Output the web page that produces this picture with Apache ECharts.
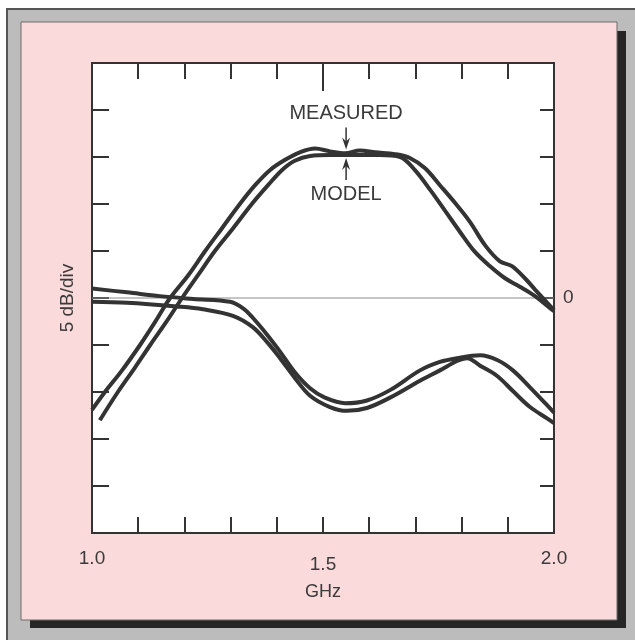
<!DOCTYPE html>
<html>
<head>
<meta charset="utf-8">
<script src="https://cdn.jsdelivr.net/npm/echarts@6/dist/echarts.min.js"></script>
<style>
html,body{margin:0;padding:0;background:#fff;}
#c{width:635px;height:640px;}
</style>
</head>
<body>
<div id="c"></div>
<script>
// ---- data (GHz, dB) ----
const upperMeasF  = [1.000,1.028,1.065,1.104,1.136,1.169,1.208,1.245,1.281,1.320,1.353,1.385,1.418,1.450,1.483,1.515,1.548,1.580,1.613,1.656,1.688,1.721,1.753,1.786,1.818,1.851,1.883,1.909,1.937,1.959,1.985,2.000];
const upperMeasDb = [-11.9,-10.0,-7.7,-5.0,-2.6,0,2.4,5.0,7.4,10.0,12.0,13.6,14.7,15.5,15.9,15.6,15.4,15.7,15.5,15.3,14.9,13.8,12.0,10.1,8.1,5.6,3.9,3.4,2.1,0.9,-0.5,-1.3];
const upperModelF  = [1.017,1.056,1.093,1.126,1.160,1.195,1.229,1.266,1.305,1.346,1.381,1.411,1.439,1.472,1.515,1.558,1.623,1.667,1.699,1.732,1.764,1.797,1.829,1.861,1.894,1.926,1.959,1.987,2.000];
const upperModelDb = [-13.0,-10.0,-7.4,-5.0,-2.6,0,2.4,5.0,7.4,10.0,12.0,13.6,14.6,15.1,15.2,15.2,15.2,15.0,13.6,11.5,9.3,7.0,4.9,3.4,2.1,1.2,0.2,-0.9,-1.4];
const lowerMeasF  = [1.000,1.076,1.147,1.219,1.299,1.327,1.348,1.379,1.407,1.439,1.472,1.504,1.548,1.595,1.645,1.710,1.753,1.790,1.840,1.877,1.911,1.948,1.985,2.000];
const lowerMeasDb = [1.0,0.6,0.2,-0.1,-0.4,-1.1,-2.1,-3.9,-5.7,-7.9,-9.6,-10.6,-11.2,-10.9,-9.8,-7.7,-6.8,-6.4,-6.1,-6.6,-7.7,-9.5,-11.4,-12.2];
const lowerModelF  = [1.000,1.076,1.184,1.240,1.305,1.348,1.379,1.407,1.439,1.472,1.515,1.552,1.595,1.645,1.710,1.753,1.790,1.812,1.840,1.877,1.911,1.948,1.985,2.000];
const lowerModelDb = [-0.4,-0.5,-0.9,-1.2,-1.9,-3.1,-4.7,-6.4,-8.5,-10.4,-11.6,-12.0,-11.7,-10.6,-8.8,-7.7,-6.7,-6.4,-7.2,-8.3,-9.9,-11.6,-12.8,-13.3];
const xLabels = ['1.0','1.5','2.0'];
const yLabelRight = ['0'];
const annot = {f:1.55, measuredDb:19.6, modelDb:11.0, measArrowDb:15.8, modelArrowDb:14.9};

const pair = (f, d) => f.map((v, i) => [v, d[i]]);
const FONT = 'Liberation Sans, Arial, sans-serif';
const INK = '#333';
const TXT = '#3a3a3a';

const chart = echarts.init(document.getElementById('c'), null, {renderer:'canvas'});

function lineSeries(name, data, extra) {
  return Object.assign({
    name, type:'line', data, symbol:'none', smooth:0.35,
    lineStyle:{color:'#333333', width:4}, z:3, silent:true
  }, extra || {});
}
function xTickAxis(pos, interval, len, showLine) {
  return {type:'value', min:1.0, max:2.0, interval, position:pos,
    axisLine:{show:showLine, onZero:false, lineStyle:{color:INK, width:2}},
    axisTick:{show:true, inside:true, length:len, lineStyle:{color:INK, width:2}},
    axisLabel:{show:false}, splitLine:{show:false}};
}

const frame = [
  {type:'rect', z:-100, shape:{x:7,y:9,width:640,height:640}, style:{fill:'#bcbcbc', stroke:'#555', lineWidth:2}},
  {type:'rect', z:-99, shape:{x:30,y:31,width:596,height:597}, style:{fill:'#262626'}},
  {type:'rect', z:-98, shape:{x:21,y:22,width:596,height:598}, style:{fill:'#fadada', stroke:'#6a6a6a', lineWidth:1}}
];

const option = {
  animation:false,
  backgroundColor:'#ffffff',
  graphic:frame,
  grid:{left:92, top:63, width:462, height:470, show:true, backgroundColor:'#ffffff', borderColor:INK, borderWidth:2, z:0},
  xAxis:[
    xTickAxis('bottom', 0.1, 16, true),
    xTickAxis('top', 0.1, 16, true),
    xTickAxis('top', 0.5, 28, false),
    {type:'value', min:1.0, max:2.0, interval:0.5, position:'bottom',
     axisLine:{show:false, onZero:false}, axisTick:{show:false}, splitLine:{show:false},
     axisLabel:{show:true, margin:16, color:TXT, fontSize:19, fontFamily:FONT,
       formatter:(v)=>{const s=v.toFixed(1); if(xLabels.indexOf(s)<0) return ''; return s==='1.5' ? '{m|'+s+'}' : s;},
       rich:{m:{fontSize:19, fontFamily:FONT, color:TXT, padding:[6,0,0,0]}}},
     name:'GHz', nameLocation:'middle', nameGap:50,
     nameTextStyle:{color:TXT, fontSize:18, fontFamily:FONT}}
  ],
  yAxis:[
    {type:'value', min:-25, max:25, interval:5, position:'left',
     axisLine:{show:true, onZero:false, lineStyle:{color:INK, width:2}},
     axisTick:{show:true, inside:true, length:17, lineStyle:{color:INK, width:2}},
     axisLabel:{show:false}, splitLine:{show:false},
     name:'5 dB/div', nameLocation:'middle', nameGap:15, nameRotate:90,
     nameTextStyle:{color:TXT, fontSize:19, fontFamily:FONT}},
    {type:'value', min:-25, max:25, interval:5, position:'right',
     axisLine:{show:true, onZero:false, lineStyle:{color:INK, width:2}},
     axisTick:{show:true, inside:true, length:14, lineStyle:{color:INK, width:2}},
     axisLabel:{show:true, inside:false, margin:9, color:TXT, fontSize:19, fontFamily:FONT,
       formatter:(v)=> yLabelRight.indexOf(String(v))>=0 ? String(v) : ''},
     splitLine:{show:false}}
  ],
  series:[
    lineSeries('zero', [[1.0,0],[2.0,0]], {lineStyle:{color:'#8a8a8a', width:1}, smooth:false, z:2}),
    lineSeries('upper measured', pair(upperMeasF, upperMeasDb)),
    lineSeries('upper model', pair(upperModelF, upperModelDb)),
    lineSeries('lower measured', pair(lowerMeasF, lowerMeasDb)),
    lineSeries('lower model', pair(lowerModelF, lowerModelDb))
  ]
};
chart.setOption(option);

// annotations anchored in data coordinates
const P = (f, d) => chart.convertToPixel({xAxisIndex:0, yAxisIndex:0}, [f, d]);
const tM = P(annot.f, annot.measuredDb);
const tL = P(annot.f, annot.modelDb);
const aM = P(annot.f, annot.measArrowDb);
const aL = P(annot.f, annot.modelArrowDb);
const ax = aM[0];
chart.setOption({graphic: frame.concat([
  {type:'text', z:10, x:tM[0], y:tM[1], style:{text:'MEASURED', fill:TXT, font:'20px '+FONT, textAlign:'center', textVerticalAlign:'middle'}},
  {type:'text', z:10, x:tL[0], y:tL[1], style:{text:'MODEL', fill:TXT, font:'20px '+FONT, textAlign:'center', textVerticalAlign:'middle'}},
  {type:'line', z:10, shape:{x1:ax, y1:aM[1]-22, x2:ax, y2:aM[1]-4}, style:{stroke:'#333', lineWidth:1.5}},
  {type:'polygon', z:10, shape:{points:[[ax,aM[1]],[ax-4,aM[1]-12],[ax,aM[1]-8],[ax+4,aM[1]-12]]}, style:{fill:'#333'}},
  {type:'line', z:10, shape:{x1:ax, y1:aL[1]+4, x2:ax, y2:aL[1]+22}, style:{stroke:'#333', lineWidth:1.5}},
  {type:'polygon', z:10, shape:{points:[[ax,aL[1]],[ax-4,aL[1]+12],[ax,aL[1]+8],[ax+4,aL[1]+12]]}, style:{fill:'#333'}}
])}, {replaceMerge:['graphic']});
</script>
</body>
</html>
